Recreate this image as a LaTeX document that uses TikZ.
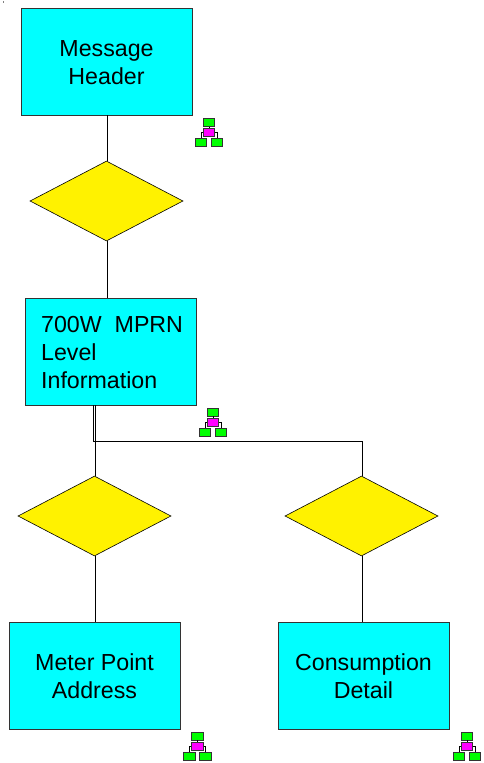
\documentclass[tikz,border=0pt]{standalone}
\usepackage{fontspec}
\setmainfont{Liberation Sans}
\usetikzlibrary{shapes.geometric}
\definecolor{boxcyan}{RGB}{0,255,255}
\definecolor{iconmagenta}{RGB}{255,0,255}
\definecolor{icongreen}{RGB}{0,255,0}
\newcommand{\boxstrut}{\rule{0pt}{19pt}}
\tikzset{
  recordbox/.style={draw=black!80, line width=0.9pt, fill=boxcyan, minimum width=171pt, minimum height=107pt, inner sep=0pt, align=center, font=\fontsize{23.2}{28}\selectfont},
  linkdiamond/.style={draw=black, line width=0.6pt, fill=yellow, diamond, aspect=1.91, minimum width=153pt, minimum height=80pt, inner sep=0pt},
  iconcell/.style={draw=black!80, line width=0.7pt, minimum width=11.5pt, minimum height=8pt, inner sep=0pt},
  link/.style={line width=0.7pt}
}
\begin{document}
\begin{tikzpicture}[x=1pt, y=-1pt]
\useasboundingbox (0,0) rectangle (484,763);
\fill[black!50] (2.5,1) rectangle (4,2.5);

\node[recordbox] (header) at (106.5,61.5) {\boxstrut Message\\Header};
\node[linkdiamond] (d1) at (106.5,201) {};
\node[recordbox] (mprn) at (110.5,351.5) {};
\node[anchor=west, inner sep=0pt, align=left, font=\fontsize{23.2}{28}\selectfont] (mprntext) at (41,352.2) {700W\ \ MPRN\\Level\\Information};
\node[linkdiamond] (d2) at (94.5,516) {};
\node[linkdiamond] (d3) at (361.5,516) {};
\node[recordbox] (meter) at (94.5,675.5) {\boxstrut Meter Point\\Address};
\node[recordbox] (detail) at (363.5,675.5) {\boxstrut Consumption\\Detail};

\coordinate (s1) at (93,405);
\coordinate (s2) at (95,405);
\coordinate (bend1) at (93,441);
\coordinate (bend2) at (362,441);

\draw[link] ([xshift=0.5pt]d1.north |- header.south) -- ([xshift=0.5pt]d1.north);
\draw[link] ([xshift=0.5pt]d1.south) -- ([xshift=0.5pt]d1.south |- mprn.north);
\draw[link] (s1) -- (bend1) -- (bend2) -- (bend2 |- d3.north);
\draw[link] (s2) -- (s2 |- d2.north);
\draw[link] ([xshift=0.5pt]d2.south) -- ([xshift=0.5pt]d2.south |- meter.north);
\draw[link] ([xshift=0.5pt]d3.south) -- ([xshift=0.5pt]d3.south |- detail.north);

% small tree icons
\foreach \name/\x/\y in {a/209/132.5, b/213/422, c/197.5/746, d/467/746}{
  \node[iconcell, fill=icongreen] (\name top) at (\x,\y-10) {};
  \node[iconcell, fill=iconmagenta] (\name mid) at (\x,\y) {};
  \node[iconcell, fill=icongreen] (\name left) at (\x-8,\y+10) {};
  \node[iconcell, fill=icongreen] (\name right) at (\x+8,\y+10) {};
  \draw[line width=0.6pt] (\name top) -- (\name mid);
  \draw[line width=0.6pt] (\name mid.west) -| (\name left.north);
  \draw[line width=0.6pt] (\name mid.east) -| (\name right.north);
}
\end{tikzpicture}
\end{document}
